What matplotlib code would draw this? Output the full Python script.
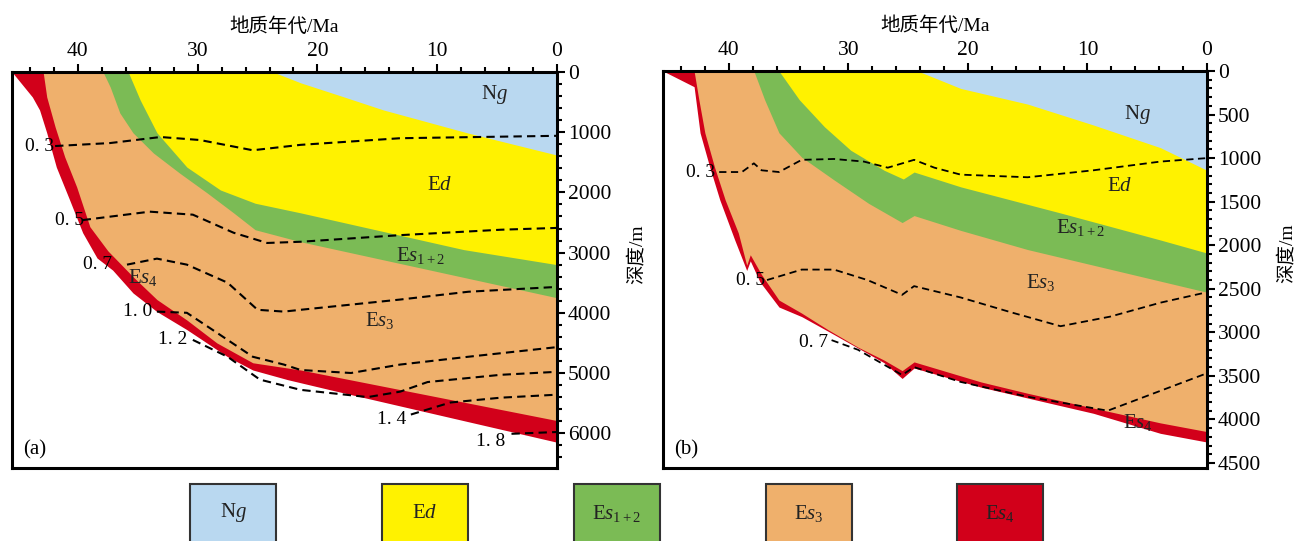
import numpy as np
import matplotlib
matplotlib.use('Agg')
import matplotlib.pyplot as plt
from matplotlib.patches import Rectangle
from matplotlib.ticker import MultipleLocator

plt.rcParams['font.family'] = ['Liberation Serif', 'Noto Sans CJK SC']
plt.rcParams['mathtext.fontset'] = 'custom'
plt.rcParams['mathtext.rm'] = 'Liberation Serif'
plt.rcParams['mathtext.it'] = 'Liberation Serif:italic'

# 地层名称与颜色 (由新到老)
layer_names = ['N$g$', 'E$d$', 'E$s_{\\mathrm{1+2}}$', 'E$s_{\\mathrm{3}}$', 'E$s_{\\mathrm{4}}$']
layer_colors = ['#B9D8F0', '#FFF200', '#7BBB55', '#EFB06C', '#D2001A']

# ---- (a) 各地层底界埋藏深度 (年代 Ma, 深度 m)
a_ng_age = [23.7, 21.4, 18.0, 14.5, 7.5, 0.0]
a_ng_dep = [0, 180, 400, 630, 1010, 1380]
a_ed_age = [35.8, 34.8, 33.4, 30.9, 28.1, 25.2, 21.4, 7.8, 0.0]
a_ed_dep = [0, 465, 1010, 1580, 1960, 2180, 2340, 2950, 3200]
a_es12_age = [37.9, 37.3, 36.5, 35.4, 33.7, 31.5, 29.2, 27.0, 25.2, 21.4, 0.0]
a_es12_dep = [0, 250, 680, 1010, 1345, 1680, 2010, 2340, 2620, 2820, 3750]
a_es3_age = [42.9, 42.6, 41.9, 41.1, 40.1, 39.0, 37.5, 35.4, 33.4, 30.9, 28.4, 25.4, 21.4, 0.0]
a_es3_dep = [0, 415, 913, 1410, 1910, 2570, 2970, 3400, 3780, 4120, 4500, 4830, 4950, 5790]
a_es4_age = [45.5, 43.8, 43.2, 42.6, 41.8, 40.7, 39.6, 38.4, 37.1, 35.4, 33.4, 30.9, 27.5, 25.4,
             22.5, 18.9, 0.0]
a_es4_dep = [0, 415, 630, 1010, 1580, 2120, 2670, 3090, 3290, 3670, 3980, 4280, 4730, 4950,
             5110, 5280, 6150]

# (a) 镜质体反射率等值线 Ro/%
a_ro_labels = ['0. 3', '0. 5', '0. 7', '1. 0', '1. 2', '1. 4', '1. 8']
a_ro03_age = [41.9, 37.3, 33.1, 29.8, 25.4, 21.4, 13.1, 6.6, 0.0]
a_ro03_dep = [1230, 1180, 1080, 1130, 1300, 1210, 1100, 1080, 1060]
a_ro05_age = [39.6, 34.0, 30.4, 27.0, 24.2, 21.4, 13.1, 4.7, 0.0]
a_ro05_dep = [2460, 2320, 2370, 2670, 2840, 2820, 2710, 2620, 2590]
a_ro07_age = [35.9, 33.4, 30.9, 27.5, 25.0, 22.8, 21.4, 13.1, 7.4, 0.0]
a_ro07_dep = [3200, 3100, 3200, 3500, 3950, 3980, 3950, 3780, 3650, 3570]
a_ro10_age = [33.4, 30.9, 28.4, 25.4, 22.8, 21.4, 17.2, 13.1, 7.4, 0.0]
a_ro10_dep = [3980, 4000, 4330, 4730, 4860, 4950, 5000, 4860, 4730, 4570]
a_ro12_age = [30.4, 27.5, 24.8, 21.4, 15.8, 13.1, 10.8, 4.7, 0.0]
a_ro12_dep = [4450, 4730, 5110, 5280, 5400, 5310, 5150, 5030, 4980]
a_ro14_age = [12.2, 8.9, 4.7, 0.0]
a_ro14_dep = [5690, 5490, 5410, 5360]
a_ro18_age = [3.8, 0.0]
a_ro18_dep = [6010, 5980]
a_ro_label_age = [44.4, 41.9, 39.6, 36.2, 33.3, 15.0, 6.8]
a_ro_label_dep = [1230, 2460, 3200, 3980, 4450, 5780, 6140]
a_layer_label_age = [5.2, 9.8, 11.4, 14.8, 34.6]
a_layer_label_dep = [380, 1880, 3040, 4120, 3420]

# ---- (b)
b_ng_age = [24.2, 20.6, 15.0, 9.5, 3.9, 0.0]
b_ng_dep = [0, 200, 380, 620, 880, 1140]
b_ed_age = [35.8, 34.1, 32.0, 29.8, 27.0, 25.4, 24.5, 20.6, 12.25, 3.9, 0.0]
b_ed_dep = [0, 330, 640, 910, 1140, 1240, 1160, 1330, 1630, 1940, 2090]
b_es12_age = [37.9, 37.0, 35.8, 33.9, 31.2, 28.3, 25.5, 24.5, 20.6, 15.0, 0.0]
b_es12_dep = [0, 330, 710, 990, 1250, 1520, 1740, 1660, 1830, 2050, 2540]
b_es3_age = [42.9, 42.5, 42.0, 41.2, 40.3, 39.2, 38.5, 38.2, 37.25, 35.8, 33.9, 31.7, 29.2,
             27.0, 25.5, 24.5, 18.9, 15.0, 9.5, 3.9, 0.0]
b_es3_dep = [0, 330, 710, 1100, 1480, 1860, 2230, 2110, 2340, 2630, 2780, 2970, 3170,
             3320, 3440, 3340, 3570, 3700, 3870, 4040, 4140]
b_es4_age = [45.5, 42.9, 42.4, 41.6, 40.75, 39.5, 38.5, 38.2, 37.4, 35.8, 33.9, 31.4, 27.0,
             25.5, 24.5, 18.9, 9.5, 3.9, 0.0]
b_es4_dep = [0, 180, 710, 1100, 1480, 1940, 2290, 2180, 2420, 2710, 2820, 3010, 3350,
             3530, 3410, 3630, 3930, 4160, 4260]

b_ro_labels = ['0. 3', '0. 5', '0. 7']
b_ro03_age = [40.8, 38.9, 37.9, 37.25, 35.8, 33.9, 31.2, 28.7, 26.7, 24.5, 22.8, 20.6, 15.0,
              9.5, 3.9, 0.0]
b_ro03_dep = [1160, 1160, 1060, 1140, 1160, 1020, 1010, 1040, 1110, 1020, 1110, 1190, 1220,
              1140, 1040, 1000]
b_ro05_age = [36.8, 33.9, 31.2, 28.4, 25.5, 24.5, 20.6, 16.4, 12.25, 8.1, 3.9, 0.0]
b_ro05_dep = [2400, 2280, 2280, 2400, 2570, 2470, 2600, 2770, 2930, 2820, 2660, 2540]
b_ro07_age = [31.4, 29.2, 25.5, 24.5, 20.6, 15.0, 8.3, 0.0]
b_ro07_dep = [3090, 3200, 3490, 3400, 3570, 3740, 3900, 3470]
b_ro_label_age = [43.6, 39.4, 34.1]
b_ro_label_dep = [1160, 2410, 3120]
b_layer_label_age = [5.8, 7.3, 10.6, 13.9, 5.8]
b_layer_label_dep = [505, 1330, 1800, 2430, 4040]


def draw_panel(ax, bases, ro_lines, ro_labels, ro_lab_age, ro_lab_dep,
               lab_age, lab_dep, ymax, ymajor, yminor, tag, dash_lw):
    # 先画老地层, 新地层覆盖其上
    for (age, dep), color in zip(bases[::-1], layer_colors[::-1]):
        ax.fill_between(age, 0, dep, color=color, lw=0)
    for age, dep in ro_lines:
        ax.plot(age, dep, color='black', lw=dash_lw, ls=(0, (4, 2.5)))
    for txt, x, y in zip(ro_labels, ro_lab_age, ro_lab_dep):
        ax.text(x, y, txt, fontsize=14, ha='left', va='center')
    for txt, x, y in zip(layer_names, lab_age, lab_dep):
        ax.text(x, y, txt, fontsize=15, ha='center', va='center', color='#222222')
    ax.text(0.02, 0.045, tag, transform=ax.transAxes, fontsize=15, ha='left', va='center')

    ax.set_xlim(45.5, 0)
    ax.set_ylim(ymax, 0)
    ax.xaxis.tick_top()
    ax.xaxis.set_label_position('top')
    ax.yaxis.tick_right()
    ax.yaxis.set_label_position('right')
    ax.xaxis.set_major_locator(MultipleLocator(10))
    ax.xaxis.set_minor_locator(MultipleLocator(2))
    ax.yaxis.set_major_locator(MultipleLocator(ymajor))
    ax.yaxis.set_minor_locator(MultipleLocator(yminor))
    ax.tick_params(which='both', direction='out', width=1.5, labelsize=15.5, pad=2)
    ax.tick_params(which='major', length=6)
    ax.tick_params(which='minor', length=3.5)
    for s in ax.spines.values():
        s.set_linewidth(2.2)
        s.set_zorder(5)
    ax.set_xlabel('地质年代/Ma', fontsize=14, labelpad=7)
    ax.set_ylabel('深度/m', fontsize=14, rotation=90)
    ax.yaxis.set_label_coords(1.13, 0.54)


fig = plt.figure(figsize=(12.97, 5.41), dpi=100)
ax_a = fig.add_axes([12 / 1297, 1 - 468 / 541, 545 / 1297, 396 / 541])
ax_b = fig.add_axes([663 / 1297, 1 - 468 / 541, 544 / 1297, 397 / 541])

draw_panel(ax_a,
           [(a_ng_age, a_ng_dep), (a_ed_age, a_ed_dep), (a_es12_age, a_es12_dep),
            (a_es3_age, a_es3_dep), (a_es4_age, a_es4_dep)],
           [(a_ro03_age, a_ro03_dep), (a_ro05_age, a_ro05_dep), (a_ro07_age, a_ro07_dep),
            (a_ro10_age, a_ro10_dep), (a_ro12_age, a_ro12_dep), (a_ro14_age, a_ro14_dep),
            (a_ro18_age, a_ro18_dep)],
           a_ro_labels, a_ro_label_age, a_ro_label_dep,
           a_layer_label_age, a_layer_label_dep, 6578, 1000, 200, '(a)', 1.5)

draw_panel(ax_b,
           [(b_ng_age, b_ng_dep), (b_ed_age, b_ed_dep), (b_es12_age, b_es12_dep),
            (b_es3_age, b_es3_dep), (b_es4_age, b_es4_dep)],
           [(b_ro03_age, b_ro03_dep), (b_ro05_age, b_ro05_dep), (b_ro07_age, b_ro07_dep)],
           b_ro_labels, b_ro_label_age, b_ro_label_dep,
           b_layer_label_age, b_layer_label_dep, 4558, 500, 100, '(b)', 1.3)

# 图例
legend_x = [190, 382, 574, 766, 957]
for x, name, color in zip(legend_x, layer_names, layer_colors):
    fig.add_artist(Rectangle((x / 1297, -0.05), 86 / 1297, 0.05 + (541 - 484) / 541,
                             transform=fig.transFigure, facecolor=color,
                             edgecolor='#333333', lw=1.5))
    fig.text((x + 43) / 1297, 1 - 513 / 541, name, fontsize=15, ha='center', va='center',
             color='#222222')

fig.savefig('out.png', dpi=100)
